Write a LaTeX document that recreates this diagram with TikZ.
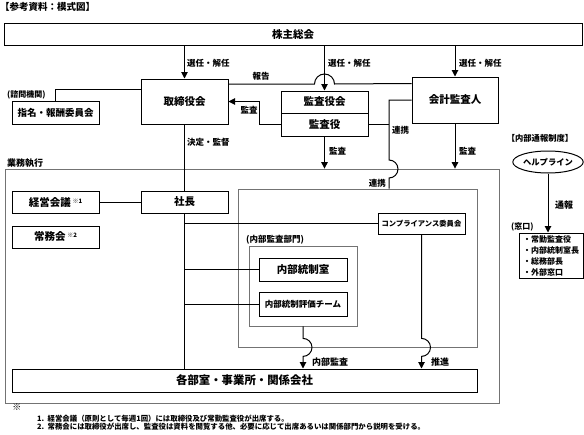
\documentclass[tikz,border=0pt]{standalone}
\usepackage{fontspec}
\setmainfont{Noto Sans CJK JP}
\usetikzlibrary{positioning,arrows.meta,shapes.geometric,calc}

\tikzset{
  box/.style={rectangle, draw, line width=1pt, inner sep=0pt, font=\fontsize{10.5}{12}\selectfont},
  area/.style={rectangle, draw=black!55, line width=0.8pt, inner sep=0pt},
  lbl/.style={inner sep=0pt, font=\fontsize{8.5}{10}\selectfont},
  wire/.style={line width=1pt},
  arr/.style={wire, -{Triangle[width=6.5pt,length=6.5pt]}},
}
\newcommand{\notemark}[1]{\,\raisebox{3pt}{\fontsize{6}{7}\selectfont ※#1}}

\begin{document}
\bfseries
\begin{tikzpicture}[x=1pt,y=-1pt]
  \useasboundingbox (0,0) rectangle (584,434);

  \node[lbl, anchor=west, font=\fontsize{9.5}{11}\selectfont] (title) at (0,7) {【参考資料：模式図】};

  % gray areas
  \node[area, minimum width=494pt, minimum height=234pt] (gyomu) at (252,286) {};
  \node[area, minimum width=239pt, minimum height=158pt] (comparea) at (357.5,268) {};
  \node[area, minimum width=108pt, minimum height=80pt] (naibu) at (303,286) {};

  % boxes
  \node[box, minimum width=578pt, minimum height=22pt] (kabu) at (293,34) {株主総会};
  \node[box, minimum width=87pt, minimum height=45pt] (tori) at (184.5,101.5) {取締役会};
  \node[box, minimum width=87pt, minimum height=23pt, font=\fontsize{9.5}{11}\selectfont] (shimei) at (55.5,112.5) {指名・報酬委員会};
  \node[box, minimum width=87pt, minimum height=22pt] (kansakai) at (324.5,102) {監査役会};
  \node[box, minimum width=87pt, minimum height=23pt] (kansayaku) at (324.5,124.5) {監査役};
  \node[box, minimum width=86pt, minimum height=46pt] (kaikei) at (455,100) {会計監査人};
  \node[box, minimum width=87pt, minimum height=22pt] (shacho) at (184.5,202) {社長};
  \node[box, minimum width=87pt, minimum height=22pt] (keiei) at (55.5,202) {経営会議\notemark{1}};
  \node[box, minimum width=87pt, minimum height=22pt] (jomu) at (55.5,237) {常務会\notemark{2}};
  \node[box, minimum width=87pt, minimum height=21pt, font=\fontsize{7.3}{9}\selectfont] (comp) at (421.5,223.5) {コンプライアンス委員会};
  \node[box, minimum width=88pt, minimum height=23pt] (tosei) at (303,269.5) {内部統制室};
  \node[box, minimum width=88pt, minimum height=24pt, font=\fontsize{8.5}{10}\selectfont] (hyoka) at (303,304) {内部統制評価チーム};
  \node[box, minimum width=465pt, minimum height=23pt, font=\fontsize{11.4}{13}\selectfont] (kakubu) at (244.5,380.5) {各部室・事業所・関係会社};

  % helpline
  \node[ellipse, draw, line width=1pt, inner sep=0pt, minimum width=62pt, minimum height=22pt, font=\fontsize{8.3}{10}\selectfont] (help) at (548,162) {ヘルプライン};
  \node[box, minimum width=64pt, minimum height=45pt, align=left, font=\fontsize{8}{11}\selectfont] (mado) at (551,255.5) {・常勤監査役\\・内部統制室長\\・総務部長\\・外部窓口};

  % election arrows
  \foreach \n/\lx in {tori/187, kansakai/328, kaikei/459} {
    \draw[arr] (\n.north |- kabu.south) -- (\n.north);
    \node[lbl, anchor=west] (sen-\n) at (\lx,63) {選任・解任};
  }

  % report line with hop
  \coordinate (hop1) at (324.5,84);
  \draw[wire] ([yshift=-7pt]kaikei.north west) -- ([xshift=10pt]hop1) arc[start angle=0, end angle=180, radius=10pt] -- (tori.east |- hop1);
  \node[lbl] (l-hokoku) at (261,76) {報告};

  % advisory
  \draw[wire] ([yshift=-11pt]tori.north west) -| (shimei.north);
  \node[lbl, anchor=west, font=\fontsize{8}{10}\selectfont] (l-shimon) at (7,95) {(諮問機関)};

  % audit to board
  \draw[arr] (kansayaku.west) -- ++(-21,0) |- (tori.east);
  \node[lbl] (l-kansa0) at (249,110) {監査};

  % cooperation line
  \coordinate (hop2) at (389,160);
  \draw[wire] (kaikei.west) -| (hop2) arc[start angle=90, end angle=-90, radius=9pt] -- (hop2 |- comparea.north);
  \draw[wire] (kansayaku.east) -- (hop2 |- kansayaku.east);
  \node[lbl, anchor=west] (l-renkei1) at (392,130) {連携};
  \node[lbl, anchor=east] (l-renkei2) at (386,183) {連携};

  % audit to execution
  \foreach \n/\lx in {kansayaku/329, kaikei/459} {
    \draw[arr] (\n.south) -- (\n.south |- gyomu.north);
    \node[lbl, anchor=west] (kan-\n) at (\lx,151) {監査};
  }

  % decision and supervision
  \draw[wire] (tori.south) -- (shacho.north);
  \node[lbl, anchor=west] (l-ketei) at (187,142) {決定・監督};
  \node[lbl, anchor=west, font=\fontsize{9}{10}\selectfont] (l-gyomu) at (7,163) {業務執行};
  \draw[wire] (keiei.east) -- (shacho.west);
  \draw[wire] (shacho.south) -- (shacho.south |- kakubu.north);
  \foreach \n in {comp, tosei, hyoka}
    \draw[wire] (shacho.south |- \n.west) -- (\n.west);
  \node[lbl, anchor=west] (l-naibu) at (246,240) {(内部監査部門)};

  % internal audit and promotion
  \draw[arr] (naibu.south) -- ([yshift=9pt]naibu.south |- comparea.south) arc[start angle=90, end angle=-90, radius=9pt] -- (naibu.south |- kakubu.north);
  \draw[arr] (comp.south) -- ([yshift=9pt]comp.south |- comparea.south) arc[start angle=90, end angle=-90, radius=9pt] -- (comp.south |- kakubu.north);
  \node[lbl, anchor=west, font=\fontsize{9}{10}\selectfont] (l-naibukansa) at (312,362) {内部監査};
  \node[lbl, anchor=west, font=\fontsize{9}{10}\selectfont] (l-suishin) at (431,362) {推進};

  % whistleblowing
  \node[lbl, font=\fontsize{8.3}{10}\selectfont] (l-tsuho0) at (540,138) {【内部通報制度】};
  \draw[arr] (help.south) -- (help.south |- mado.north);
  \node[lbl, anchor=west, font=\fontsize{9}{10}\selectfont] (l-tsuho) at (555,205) {通報};
  \node[lbl, anchor=west, font=\fontsize{8}{10}\selectfont] (l-mado) at (511,227) {(窓口)};

  % notes
  \node[lbl, font=\fontsize{9}{10}\selectfont] (note) at (17,407) {※};
  \node[lbl, anchor=west, font=\fontsize{7.4}{9}\selectfont] (note1) at (37,419) {1.\ \ 経営会議（原則として毎週1回）には取締役及び常勤監査役が出席する。};
  \node[lbl, anchor=west, font=\fontsize{7.4}{9}\selectfont] (note2) at (37,427) {2.\ \ 常務会には取締役が出席し、監査役は資料を閲覧する他、必要に応じて出席あるいは関係部門から説明を受ける。};
\end{tikzpicture}
\end{document}
